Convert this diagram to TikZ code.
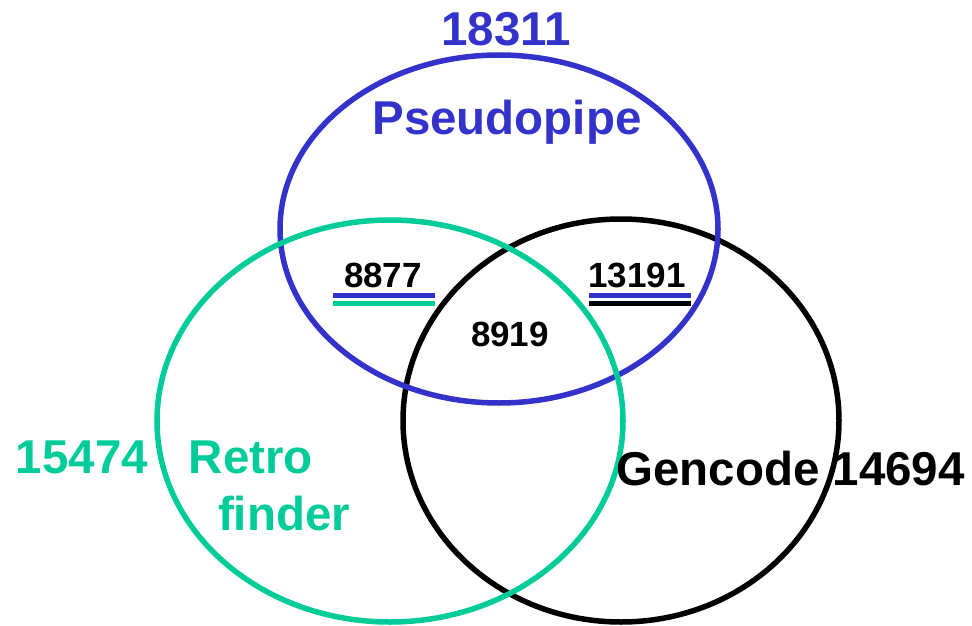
\documentclass[tikz,border=0pt]{standalone}
\usepackage{fontspec}
\setmainfont{Liberation Sans}
\definecolor{pblue}{RGB}{51,51,204}
\definecolor{rgreen}{RGB}{0,204,153}
\begin{document}
\begin{tikzpicture}[x=1pt,y=-1pt,
  ring/.style={line width=5.5pt},
  big/.style={font=\fontsize{47.5}{52}\selectfont\bfseries, inner sep=0pt, anchor=base},
  small/.style={font=\fontsize{35}{40}\selectfont\bfseries, inner sep=0pt, anchor=base},
  uline/.style={line width=5pt}]
\useasboundingbox (0,0) rectangle (972,626);
% ellipses
\draw[ring, black] (621,420.5) ellipse [x radius=218pt, y radius=201.5pt];
\draw[ring, pblue] (499,229) ellipse [x radius=219pt, y radius=174pt];
\draw[ring, rgreen] (390,421) ellipse [x radius=233pt, y radius=201pt];
% labels
\node[big, text=pblue] (n18311) at (506,46) {18311};
\node[big, text=pblue] (pseudo) at (507,134) {Pseudopipe};
\node[big, text=rgreen] (n15474) at (82,473) {15474};
\node[big, text=rgreen] (retro) at (251,473) {Retro};
\node[big, text=rgreen] (finder) at (284,530) {finder};
\node[big, text=black, anchor=base west] (gencode) at (616,485) {Gencode 14694};
\node[small] (n8877) at (383,287) {8877};
\node[small] (n13191) at (637,287) {13191};
\node[small] (n8919) at (510,346) {8919};
% underlines
\coordinate (ua1) at (333,295); \coordinate (ua2) at (435,295);
\coordinate (ub1) at (333,303); \coordinate (ub2) at (435,303);
\coordinate (uc1) at (589,295); \coordinate (uc2) at (691,295);
\coordinate (ud1) at (589,303); \coordinate (ud2) at (691,303);
\draw[uline, pblue] (ua1) -- (ua2);
\draw[uline, rgreen] (ub1) -- (ub2);
\draw[uline, pblue] (uc1) -- (uc2);
\draw[uline, black] (ud1) -- (ud2);
\end{tikzpicture}
\end{document}
